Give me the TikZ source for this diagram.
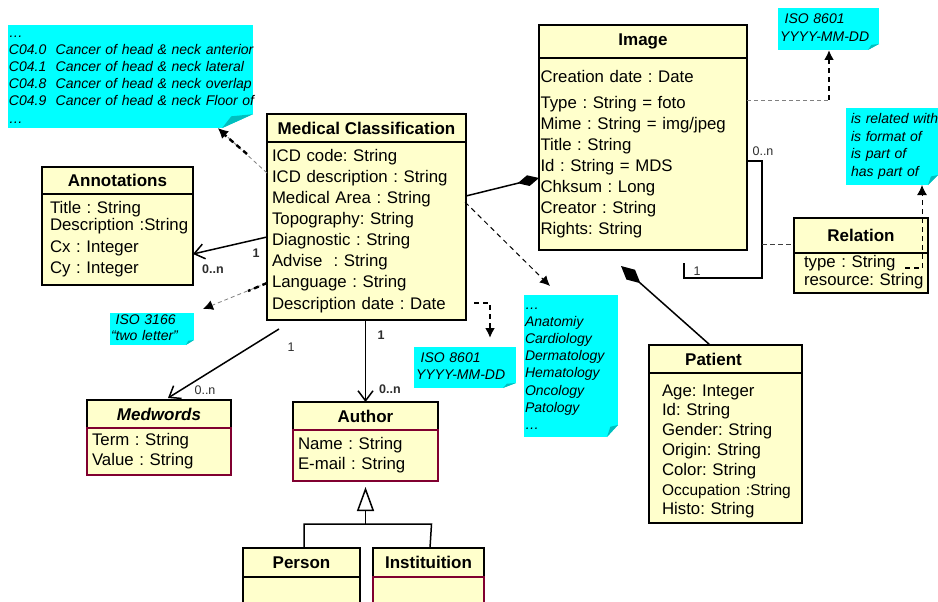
\documentclass[tikz,border=0pt]{standalone}
\usepackage{fontspec}
\setmainfont{Liberation Sans}
\usetikzlibrary{arrows.meta,calc}
\definecolor{classfill}{RGB}{255,255,204}
\definecolor{notefill}{RGB}{0,255,255}
\definecolor{notefold}{RGB}{0,190,190}
\definecolor{compred}{RGB}{128,0,48}
\definecolor{lblcol}{RGB}{45,45,45}
\newcommand\myrows[1]{\begin{tabular}{@{}l@{}}#1\end{tabular}}
\tikzset{
  box/.style={draw=black, line width=1.6pt, fill=classfill, anchor=north west, outer sep=0pt},
  classhead/.style={box, inner sep=0pt, font=\fontsize{17}{20}\selectfont\bfseries},
  classbody/.style={box, inner ysep=0pt, align=left, font=\fontsize{16.8}{21.1}\selectfont},
  redbody/.style={classbody, draw=compred},
  note/.style n args={2}{fill=notefill, anchor=north west, inner ysep=0pt, outer sep=0pt, align=left,
     font=\fontsize{14}{17.2}\selectfont\itshape,
     path picture={
       \fill[white] ([xshift=-#1pt]path picture bounding box.south east) -- (path picture bounding box.south east) -- ([yshift=#2pt]path picture bounding box.south east) -- cycle;
       \fill[notefold] ([xshift=-#1pt]path picture bounding box.south east) -- ([yshift=#2pt]path picture bounding box.south east) -- ([xshift=-0.7*#1pt, yshift=0.85*#2pt]path picture bounding box.south east) -- cycle;
     }},
  conn/.style={line width=1.5pt},
  assoc/.style={conn, -{Straight Barb[length=10pt,width=15pt]}},
  comp/.style={conn, -{Diamond[length=22pt,width=11pt]}},
  gen/.style={conn, -{Triangle[open,length=24pt,width=17pt,fill=white]}},
  greydash/.style={draw=gray, line width=0.8pt, dash pattern=on 4pt off 3pt},
  blackdash/.style={draw=black, line width=2.4pt, dash pattern=on 5pt off 4pt},
  thindash/.style={draw=black, line width=1pt, dash pattern=on 5pt off 4pt},
  tip/.style={-{Latex[length=10pt,width=10pt,color=black]}},
  lbl/.style={font=\fontsize{12.5}{14}\selectfont, text=lblcol, inner sep=0pt},
  lblb/.style={lbl, font=\fontsize{12.5}{14}\selectfont\bfseries},
}
\begin{document}
\frenchspacing
\begin{tikzpicture}[x=1pt,y=-1pt]
\useasboundingbox (0,0) rectangle (938,602);
\fill[white] (0,0) rectangle (938,602);
\clip (0,0) rectangle (938,602);

% notes
\node[note={31}{14}, minimum width=245pt, minimum height=102pt, text width=243pt, inner xsep=1pt] (nicd) at (8,25)
  {\myrows{…\\C04.0\ \ Cancer of head \& neck anterior\\C04.1\ \ Cancer of head \& neck lateral\\C04.8\ \ Cancer of head \& neck overlap\\C04.9\ \ Cancer of head \& neck Floor of\\…}};
\node[note={11}{6}, minimum width=101pt, minimum height=42pt, text width=97pt, inner xsep=2pt, font=\fontsize{14}{18}\selectfont\itshape] (nisoimg) at (778,8)
  {\myrows{\ ISO 8601\\YYYY-MM-DD}};
\node[note={10}{10}, minimum width=92pt, minimum height=77pt, text width=82pt, inner xsep=5pt, font=\fontsize{14}{17.5}\selectfont\itshape] (nrel) at (846,108)
  {\myrows{is related with\\is format of\\is part of\\has part of}};
\node[note={8}{5}, minimum width=84pt, minimum height=32pt, text width=82pt, inner xsep=1pt, font=\fontsize{14}{16}\selectfont\itshape] (niso3166) at (110,313)
  {\myrows{\ ISO 3166\\“two letter”}};
\node[note={13}{5}, minimum width=102pt, minimum height=41pt, text width=98pt, inner xsep=2pt, font=\fontsize{14}{16.5}\selectfont\itshape] (nisodesc) at (414,347)
  {\myrows{\ ISO 8601\\YYYY-MM-DD}};
\node[note={11}{12}, minimum width=94pt, minimum height=142pt, text width=92pt, inner xsep=1pt, font=\fontsize{14}{17.1}\selectfont\itshape] (narea) at (524,295)
  {\myrows{…\\Anatomiy\\Cardiology\\Dermatology\\Hematology\\Oncology\\Patology\\…}};

% classes
\node[classhead, minimum width=199pt, minimum height=28pt] (mch) at (267,114) {Medical Classification};
\node[classbody, minimum width=199pt, minimum height=178pt, text width=189pt, inner xsep=5pt] (mcb) at (267,142)
  {\myrows{ICD code: String\\ICD description : String\\Medical Area : String\\Topography: String\\Diagnostic : String\\Advise\ \ : String\\Language : String\\Description date : Date}};

\node[classhead, minimum width=208pt, minimum height=33pt] (imh) at (539,25) {Image};
\node[classbody, minimum width=208pt, minimum height=192pt, text width=205pt, inner xsep=1.5pt, font=\fontsize{16.8}{20.9}\selectfont] (imb) at (539,58)
  {\myrows{Creation date : Date\\[6pt]Type : String = foto\\Mime : String = img/jpeg\\Title : String\\Id : String = MDS\\Chksum : Long\\Creator\ : String\\Rights: String}};

\node[classhead, minimum width=151pt, minimum height=27pt] (anh) at (42,167) {Annotations};
\node[classbody, minimum width=151pt, minimum height=91pt, text width=135pt, inner xsep=8pt, font=\fontsize{16.8}{21.5}\selectfont] (anb) at (42,194)
  {\myrows{Title\ : String\\[-4.5pt]Description :String\\Cx :\ Integer\\Cy : Integer}};

\node[classhead, minimum width=134pt, minimum height=35pt] (rlh) at (794,218) {Relation};
\node[classbody, minimum width=134pt, minimum height=40pt, text width=114pt, inner xsep=10pt, font=\fontsize{16.8}{18}\selectfont] (rlb) at (794,253)
  {\myrows{type : String\\resource: String}};

\node[classhead, minimum width=153pt, minimum height=28pt] (pah) at (649,345) {Patient\hspace*{24pt}};
\node[classbody, minimum width=153pt, minimum height=150pt, text width=127pt, inner xsep=13pt, font=\fontsize{16.8}{19.8}\selectfont] (pab) at (649,373)
  {\myrows{\rule{0pt}{20.9pt}Age: Integer\\Id: String\\Gender: String\\Origin: String\\Color: String\\{\fontsize{15.5}{19.8}\selectfont Occupation :String}\\Histo: String}};

\node[classhead, minimum width=144pt, minimum height=28pt, font=\fontsize{17}{20}\selectfont\bfseries\itshape] (mwh) at (87,400) {Medwords};
\node[redbody, minimum width=144pt, minimum height=47pt, text width=134pt, inner xsep=5pt, font=\fontsize{16.8}{20}\selectfont] (mwb) at (87,428)
  {\myrows{Term : String\\Value : String}};

\node[classhead, minimum width=145pt, minimum height=28pt] (auh) at (293,402) {Author};
\node[redbody, minimum width=145pt, minimum height=51pt, text width=135pt, inner xsep=5pt, font=\fontsize{16.8}{19.5}\selectfont] (aub) at (293,430)
  {\myrows{Name : String\\E-mail : String}};

\node[classhead, minimum width=117pt, minimum height=29pt] (peh) at (243,548) {Person};
\node[classbody, minimum width=117pt, minimum height=40pt] (peb) at (243,577) {};
\node[classhead, minimum width=111pt, minimum height=29pt] (inh) at (373,548) {Instituition};
\node[redbody, minimum width=111pt, minimum height=40pt] (inb) at (373,577) {};

% connectors
\draw[comp] ($(mcb.north east)+(0,54)$) -- ($(imb.north west)+(0,120)$);
\draw[conn, {Diamond[length=26pt,width=13pt]}-] ($(imb.south west)+(82,16)$) -- ($(pah.north west)+(61,0)$);
\draw[assoc] ($(mcb.north west)+(0,95)$) -- ($(anb.north east)+(0,60)$);
\draw[assoc] ($(mcb.south west)+(12,9)$) -- ($(mwh.north)+(9,-2)$);
\draw[assoc] (mcb.south -| auh.north) -- (auh.north);

\coordinate (genpt) at ($(aub.south)+(0,43)$);
\draw[gen, shorten >=6pt] (genpt) -- (aub.south);
\draw[conn] ($(peh.north)+(2.5,0)$) |- ($(genpt)+(66,0)$) -- ($(inh.north)+(1.5,0)$);

\coordinate (loopA) at ($(imb.north east)+(15,103)$);
\draw[conn] ($(imb.north east)+(0,103)$) -- (loopA) -- ($(imb.south east)+(15,28)$) -- ($(imb.south west)+(145,28)$) -- ($(imb.south west)+(145,13)$);
\draw[draw=black!75, line width=1pt, dash pattern=on 5pt off 3pt] ($(imb.south east)+(15,-6)$) -- ($(rlh.south west)+(0,-9)$);

\draw[blackdash] ($(rlb.north east)+(-23,15)$) -- ($(rlb.north east)+(-6,15)$);
\draw[thindash, tip] ($(rlb.north east)+(-6,15)$) -- ($(nrel.south west)+(76,0)$);

\coordinate (isoc) at ($(imb.north east)+(82,42)$);
\draw[greydash] ($(imb.north east)+(0,42)$) -- (isoc);
\draw[blackdash, tip] (isoc) -- (isoc |- nisoimg.south);

\draw[greydash, tip] ($(mcb.north west)+(0,31)$) -- ($(nicd.south east)+(-35,0)$);
\draw[blackdash] ($(mcb.north west)+(-20,12)$) -- ($(nicd.south east)+(-28,7)$);

\draw[greydash, tip] ($(mcb.north west)+(0,141)$) -- ($(niso3166.north east)+(9,-4)$);
\draw[blackdash] ($(mcb.north west)+(0,141)$) -- ($(mcb.north west)+(-19,149)$);

\draw[thindash, tip] ($(mcb.north east)+(-1,60)$) -- ($(narea.north west)+(26,-9)$);
\draw[blackdash, tip] ($(mcb.south east)+(8,-17)$) -| ($(nisodesc.north)+(25,-9)$);

% multiplicities
\node[lblb] at (256,253) {1};
\node[lblb] at (213,269) {0..n};
\node[lbl] at (291,347) {1};
\node[lbl] at (205,390) {0..n};
\node[lblb] at (381,335) {1};
\node[lblb] at (390,389) {0..n};
\node[lbl] at (763,151) {0..n};
\node[lbl] at (697,271) {1};
\end{tikzpicture}
\end{document}
